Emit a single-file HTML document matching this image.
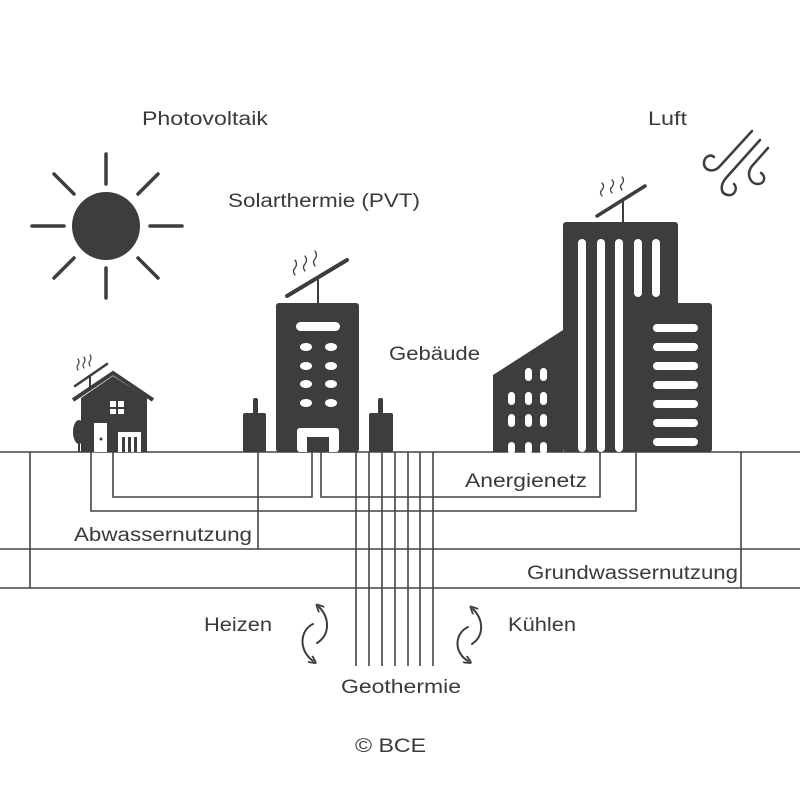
<!DOCTYPE html>
<html><head><meta charset="utf-8"><style>
html,body{margin:0;padding:0;background:#fff;}
svg{display:block;}
text{font-family:"Liberation Sans",sans-serif;font-size:19px;fill:#3a3a3a;}
</style></head><body>
<svg width="800" height="800" viewBox="0 0 800 800" xmlns="http://www.w3.org/2000/svg">
<rect width="800" height="800" fill="#fff"/>
<!-- sun -->
<g stroke="#3d3d3d" stroke-width="3.5" stroke-linecap="round">
<line x1="106" y1="154" x2="106" y2="184"/>
<line x1="106" y1="268" x2="106" y2="298"/>
<line x1="32" y1="226" x2="64" y2="226"/>
<line x1="150" y1="226" x2="182" y2="226"/>
<line x1="54" y1="174" x2="74" y2="194"/>
<line x1="138" y1="258" x2="158" y2="278"/>
<line x1="158" y1="174" x2="138" y2="194"/>
<line x1="74" y1="258" x2="54" y2="278"/>
</g>
<circle cx="106" cy="226" r="34" fill="#3d3d3d"/>
<!-- wind -->
<g fill="none" stroke="#3d3d3d" stroke-width="2.5" stroke-linecap="round">
<path d="M752 131 L720 166 C713 174 703 170 704 162 C705 156 711 154 714 157"/>
<path d="M760 140 L726 178 C720 185 720 194 728 195 C735 196 738 188 734 184"/>
<path d="M768 148 L752 166 C746 174 750 184 758 184 C765 184 766 176 761 173"/>
</g>
<!-- ground lines -->
<g stroke="#444" stroke-width="1.6" fill="none">
<line x1="0" y1="452" x2="800" y2="452"/>
<line x1="0" y1="549" x2="800" y2="549"/>
<line x1="0" y1="588" x2="800" y2="588"/>
<line x1="30" y1="452" x2="30" y2="588"/>
<line x1="741" y1="452" x2="741" y2="588"/>
<line x1="258" y1="452" x2="258" y2="549"/>
<polyline points="91,452 91,511 636,511 636,452"/>
<polyline points="113,452 113,497 312,497 312,452"/>
<polyline points="321,452 321,497 600,497 600,452"/>
<line x1="356" y1="452" x2="356" y2="666"/>
<line x1="369" y1="452" x2="369" y2="666"/>
<line x1="382" y1="452" x2="382" y2="666"/>
<line x1="395" y1="452" x2="395" y2="666"/>
<line x1="408" y1="452" x2="408" y2="666"/>
<line x1="420" y1="452" x2="420" y2="666"/>
<line x1="433" y1="452" x2="433" y2="666"/>
</g>
<!-- house -->
<g fill="#3d3d3d">
<polygon points="81,398 113,376 147,398 147,452 81,452"/>
<polyline points="73,400 113,373 153,400" fill="none" stroke="#3d3d3d" stroke-width="4"/>
<rect x="110" y="401" width="14" height="13" fill="#fff"/>
<rect x="116" y="401" width="2" height="13"/><rect x="110" y="407" width="14" height="2"/>
<rect x="94" y="423" width="13" height="29" fill="#fff"/>
<circle cx="101" cy="439" r="1.5"/>
<rect x="118" y="432" width="23" height="20" fill="#fff"/>
<rect x="122" y="437" width="3" height="15"/><rect x="128" y="437" width="3" height="15"/><rect x="134" y="437" width="3" height="15"/>
<ellipse cx="79" cy="432" rx="6" ry="12"/>
<rect x="78" y="440" width="2" height="12"/>
</g>
<g stroke="#3d3d3d" fill="none" stroke-linecap="round">
<line x1="75" y1="386" x2="107" y2="364" stroke-width="2.5"/>
<line x1="90" y1="376" x2="90" y2="390" stroke-width="2"/>
<path d="M78 370 q-2 -3 0 -5 q2 -3 0 -6 M84 368 q-2 -3 0 -5 q2 -3 0 -6 M90 366 q-2 -3 0 -5 q2 -3 0 -6" stroke-width="1.2"/>
</g>
<!-- middle building -->
<g fill="#3d3d3d">
<rect x="276" y="303" width="83" height="149" rx="3"/>
<rect x="243" y="413" width="23" height="39" rx="2"/>
<rect x="253" y="398" width="5" height="20" rx="2"/>
<rect x="369" y="413" width="24" height="39" rx="2"/>
<rect x="378" y="398" width="5" height="20" rx="2"/>
</g>
<g fill="#fff">
<rect x="296" y="322" width="44" height="9" rx="4.5"/>
<ellipse cx="306" cy="347" rx="6" ry="4"/><ellipse cx="331" cy="347" rx="6" ry="4"/>
<ellipse cx="306" cy="366" rx="6" ry="4"/><ellipse cx="331" cy="366" rx="6" ry="4"/>
<ellipse cx="306" cy="384" rx="6" ry="4"/><ellipse cx="331" cy="384" rx="6" ry="4"/>
<ellipse cx="306" cy="403" rx="6" ry="4"/><ellipse cx="331" cy="403" rx="6" ry="4"/>
<rect x="297" y="428" width="42" height="24" rx="3"/>
</g>
<rect x="307" y="437" width="22" height="15" fill="#3d3d3d"/>
<g stroke="#3d3d3d" fill="none" stroke-linecap="round">
<line x1="287" y1="296" x2="347" y2="260" stroke-width="4"/>
<line x1="318" y1="280" x2="318" y2="303" stroke-width="2"/>
<path d="M295 275 q-3 -4 0 -7 q3 -4 0 -8 M305 271 q-3 -4 0 -7 q3 -4 0 -8 M315 266 q-3 -4 0 -7 q3 -4 0 -8" stroke-width="1.3"/>
</g>
<!-- big building -->
<g fill="#3d3d3d">
<rect x="563" y="222" width="115" height="230" rx="3"/>
<rect x="650" y="303" width="62" height="149" rx="3"/>
<polygon points="493,375 563,330 563,452 493,452"/>
</g>
<g fill="#fff">
<rect x="578" y="239" width="8" height="213" rx="4"/>
<rect x="597" y="239" width="8" height="213" rx="4"/>
<rect x="615" y="239" width="8" height="213" rx="4"/>
<rect x="634" y="239" width="8" height="58" rx="4"/>
<rect x="652" y="239" width="8" height="58" rx="4"/>
<rect x="653" y="324" width="45" height="8" rx="4"/>
<rect x="653" y="343" width="45" height="8" rx="4"/>
<rect x="653" y="362" width="45" height="8" rx="4"/>
<rect x="653" y="381" width="45" height="8" rx="4"/>
<rect x="653" y="400" width="45" height="8" rx="4"/>
<rect x="653" y="419" width="45" height="8" rx="4"/>
<rect x="653" y="438" width="45" height="8" rx="4"/>
<rect x="525" y="368" width="7" height="13" rx="3.5"/><rect x="540" y="368" width="7" height="13" rx="3.5"/>
<rect x="508" y="392" width="7" height="13" rx="3.5"/><rect x="525" y="392" width="7" height="13" rx="3.5"/><rect x="540" y="392" width="7" height="13" rx="3.5"/>
<rect x="508" y="414" width="7" height="13" rx="3.5"/><rect x="525" y="414" width="7" height="13" rx="3.5"/><rect x="540" y="414" width="7" height="13" rx="3.5"/>
<rect x="508" y="442" width="7" height="12" rx="3.5"/><rect x="525" y="442" width="7" height="12" rx="3.5"/><rect x="540" y="442" width="7" height="12" rx="3.5"/>
</g>
<g stroke="#3d3d3d" fill="none" stroke-linecap="round">
<line x1="597" y1="216" x2="645" y2="186" stroke-width="3.5"/>
<line x1="623" y1="200" x2="623" y2="222" stroke-width="2"/>
<path d="M602 196 q-3 -4 0 -6 q3 -4 0 -7 M612 193 q-3 -4 0 -6 q3 -4 0 -7 M622 190 q-3 -4 0 -6 q3 -4 0 -7" stroke-width="1.3"/>
</g>
<!-- cycle arrows -->
<defs><marker id="ah" markerWidth="8" markerHeight="8" refX="4" refY="4" orient="auto" markerUnits="userSpaceOnUse"><path d="M0,0 L8,4 L0,8" fill="none" stroke="#3d3d3d" stroke-width="1.8"/></marker></defs>
<g fill="none" stroke="#3d3d3d" stroke-width="2" stroke-linecap="round">
<path d="M317 643 C330 635 330 618 319 607" marker-end="url(#ah)"/>
<path d="M313 624 C300 630 298 650 313 661" marker-end="url(#ah)"/>
<path d="M472 644 C484 636 484 620 473 609" marker-end="url(#ah)"/>
<path d="M468 627 C455 633 453 652 468 661" marker-end="url(#ah)"/>
</g>
<!-- text -->
<text x="142" y="125" textLength="126" lengthAdjust="spacingAndGlyphs">Photovoltaik</text>
<text x="228" y="207" textLength="192" lengthAdjust="spacingAndGlyphs">Solarthermie (PVT)</text>
<text x="648" y="125" textLength="39" lengthAdjust="spacingAndGlyphs">Luft</text>
<text x="389" y="360" textLength="91" lengthAdjust="spacingAndGlyphs">Gebäude</text>
<text x="465" y="487" textLength="122" lengthAdjust="spacingAndGlyphs">Anergienetz</text>
<text x="74" y="541" textLength="178" lengthAdjust="spacingAndGlyphs">Abwassernutzung</text>
<text x="527" y="579" textLength="211" lengthAdjust="spacingAndGlyphs">Grundwassernutzung</text>
<text x="204" y="631" textLength="68" lengthAdjust="spacingAndGlyphs">Heizen</text>
<text x="508" y="631" textLength="68" lengthAdjust="spacingAndGlyphs">Kühlen</text>
<text x="341" y="693" textLength="120" lengthAdjust="spacingAndGlyphs">Geothermie</text>
<text x="355" y="752" textLength="71" lengthAdjust="spacingAndGlyphs">© BCE</text>
</svg>
</body></html>
